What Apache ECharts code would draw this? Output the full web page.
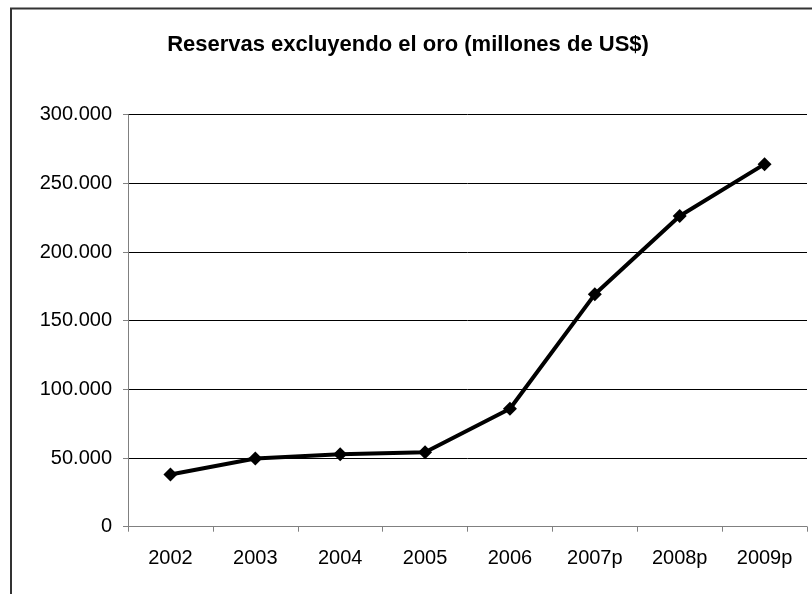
<!DOCTYPE html>
<html>
<head>
<meta charset="utf-8">
<script src="https://cdn.jsdelivr.net/npm/echarts@6/dist/echarts.min.js"></script>
<style>
html,body{margin:0;padding:0;background:#fff;}
#chart{width:812px;height:594px;}
</style>
</head>
<body>
<div id="chart"></div>
<script>
// Reservas internacionales excluyendo el oro, millones de US$
const years = ['2002', '2003', '2004', '2005', '2006', '2007p', '2008p', '2009p'];
const reserves = [38000, 49600, 52700, 54200, 85900, 169200, 226200, 264000];
const yTicks = [0, 50000, 100000, 150000, 200000, 250000, 300000];

const fmt = v => v === 0 ? '0' : String(v).replace(/\B(?=(\d{3})+(?!\d))/g, '.');

const chart = echarts.init(document.getElementById('chart'), null, {renderer: 'canvas'});
chart.setOption({
  animation: false,
  backgroundColor: '#fff',
  title: {
    text: 'Reservas excluyendo el oro (millones de US$)',
    left: 403, top: 29, textAlign: 'center',
    textStyle: {fontFamily: 'Liberation Sans, Arial', fontSize: 22, fontWeight: 'bold', color: '#000'}
  },
  graphic: [
    {type: 'polyline', shape: {points: [[11, 594], [11, 8.5], [812, 8.5]]},
     style: {stroke: '#333', lineWidth: 2, fill: null}}
  ],
  grid: {left: 128, right: 5, top: 114.7, bottom: 67.3},
  xAxis: {
    type: 'category', data: years, boundaryGap: true,
    axisLine: {lineStyle: {color: '#808080', width: 1}},
    axisTick: {show: true, length: 5, alignWithLabel: false, lineStyle: {color: '#808080'}},
    axisLabel: {fontFamily: 'Liberation Sans, Arial', fontSize: 20, color: '#000', margin: 22}
  },
  yAxis: {
    type: 'value', min: yTicks[0], max: yTicks[yTicks.length - 1], interval: 50000,
    axisLine: {show: true, lineStyle: {color: '#808080', width: 1}},
    axisTick: {show: true, length: 5, lineStyle: {color: '#808080'}},
    splitLine: {show: true, lineStyle: {color: '#000', width: 1}},
    axisLabel: {fontFamily: 'Liberation Sans, Arial', fontSize: 20, color: '#000', margin: 16, formatter: fmt}
  },
  series: [{
    type: 'line', data: reserves,
    symbol: 'diamond', symbolSize: 14,
    lineStyle: {color: '#000', width: 4},
    itemStyle: {color: '#000'}
  }]
});
</script>
</body>
</html>
